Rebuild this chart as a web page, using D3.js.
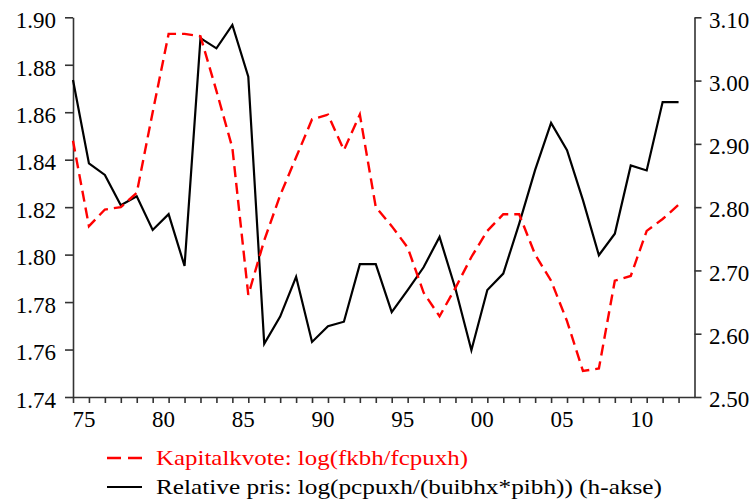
<!DOCTYPE html>
<html>
<head>
<meta charset="utf-8">
<script src="https://cdn.jsdelivr.net/npm/d3@7"></script>
<style>
  html, body { margin: 0; padding: 0; background: #fff; }
  svg { display: block; }
  text { font-family: "Liberation Serif", "Times New Roman", serif; }
</style>
</head>
<body>
<svg id="chart" width="756" height="499"></svg>
<script>
const years = [1974,1975,1976,1977,1978,1979,1980,1981,1982,1983,1984,1985,1986,1987,1988,1989,1990,1991,1992,1993,1994,1995,1996,1997,1998,1999,2000,2001,2002,2003,2004,2005,2006,2007,2008,2009,2010,2011,2012];
const kapitalkvote = [1.848,1.812,1.819,1.820,1.826,1.860,1.893,1.893,1.892,1.869,1.845,1.783,1.806,1.825,1.841,1.857,1.859,1.844,1.859,1.820,1.812,1.803,1.784,1.774,1.786,1.799,1.810,1.817,1.817,1.800,1.789,1.772,1.751,1.752,1.789,1.791,1.810,1.815,1.821];
const relativePris = [3.001,2.869,2.851,2.803,2.817,2.764,2.789,2.707,3.067,3.051,3.088,3.006,2.584,2.627,2.690,2.587,2.612,2.619,2.710,2.710,2.634,2.669,2.705,2.753,2.671,2.574,2.669,2.695,2.774,2.859,2.933,2.890,2.811,2.724,2.758,2.866,2.858,2.966,2.966];
const leftTicks = [1.74,1.76,1.78,1.80,1.82,1.84,1.86,1.88,1.90];
const rightTicks = [2.50,2.60,2.70,2.80,2.90,3.00,3.10];
const xLabelYears = [1975,1980,1985,1990,1995,2000,2005,2010];
const xLabelText = ["75","80","85","90","95","00","05","10"];
const legendLabels = ["Kapitalkvote: log(fkbh/fcpuxh)", "Relative pris: log(pcpuxh/(buibhx*pibh)) (h-akse)"];

const svg = d3.select("#chart");
const L = 73, R = 694.5, T = 17.3, B = 397;
const x = d3.scaleLinear().domain([1974, 2013]).range([L, R]);
const yL = d3.scaleLinear().domain([1.74, 1.90]).range([B, T]);
const yR = d3.scaleLinear().domain([2.50, 3.10]).range([B, T]);
const axisColor = "#333";

// Left axis
const gL = svg.append("g").attr("transform", `translate(${L},0)`)
  .call(d3.axisLeft(yL).tickValues(leftTicks).tickSize(8).tickSizeOuter(0).tickFormat(""));
// Right axis
const gR = svg.append("g").attr("transform", `translate(${R},0)`)
  .call(d3.axisRight(yR).tickValues(rightTicks).tickSize(7).tickSizeOuter(0).tickFormat(""));
// Bottom axis
const gB = svg.append("g").attr("transform", `translate(0,${B})`)
  .call(d3.axisBottom(x).tickValues(years).tickSize(6).tickSizeOuter(0).tickFormat(""));
[gL, gR, gB].forEach(g => {
  g.selectAll("path, line").attr("stroke", axisColor).attr("stroke-width", 1.6);
});

// Tick labels
svg.append("g").selectAll("text").data(leftTicks).join("text")
  .attr("x", 56).attr("y", d => yL(d) + 10.8)
  .attr("text-anchor", "end").attr("font-size", 23).attr("fill", "#000")
  .text(d => d.toFixed(2));
svg.append("g").selectAll("text").data(rightTicks).join("text")
  .attr("x", 709).attr("y", d => yR(d) + 10.3)
  .attr("text-anchor", "start").attr("font-size", 23).attr("fill", "#000")
  .text(d => d.toFixed(2));
svg.append("g").selectAll("text").data(xLabelYears).join("text")
  .attr("x", d => x(d) - 5).attr("y", 427)
  .attr("text-anchor", "middle").attr("font-size", 23).attr("fill", "#000")
  .text((d, i) => xLabelText[i]);

// Lines
const lineL = d3.line().x((d, i) => x(years[i])).y(d => yL(d));
const lineR = d3.line().x((d, i) => x(years[i])).y(d => yR(d));
svg.append("path").datum(relativePris).attr("d", lineR)
  .attr("fill", "none").attr("stroke", "#000").attr("stroke-width", 2.2)
  .attr("stroke-linejoin", "miter");
svg.append("path").datum(kapitalkvote).attr("d", lineL)
  .attr("fill", "none").attr("stroke", "#ff0000").attr("stroke-width", 2.4)
  .attr("stroke-dasharray", "11,6");

// Legend
const lg = svg.append("g");
lg.append("line").attr("x1", 107).attr("x2", 142).attr("y1", 458).attr("y2", 458)
  .attr("stroke", "#ff0000").attr("stroke-width", 2.6).attr("stroke-dasharray", "14,7");
lg.append("text").attr("x", 156).attr("y", 465).attr("font-size", 22).attr("fill", "#ff0000")
  .attr("textLength", 312).attr("lengthAdjust", "spacingAndGlyphs")
  .text(legendLabels[0]);
lg.append("line").attr("x1", 107).attr("x2", 142).attr("y1", 487).attr("y2", 487)
  .attr("stroke", "#000").attr("stroke-width", 2.2);
lg.append("text").attr("x", 156).attr("y", 494).attr("font-size", 22).attr("fill", "#000")
  .attr("textLength", 506).attr("lengthAdjust", "spacingAndGlyphs")
  .text(legendLabels[1]);
</script>
</body>
</html>
